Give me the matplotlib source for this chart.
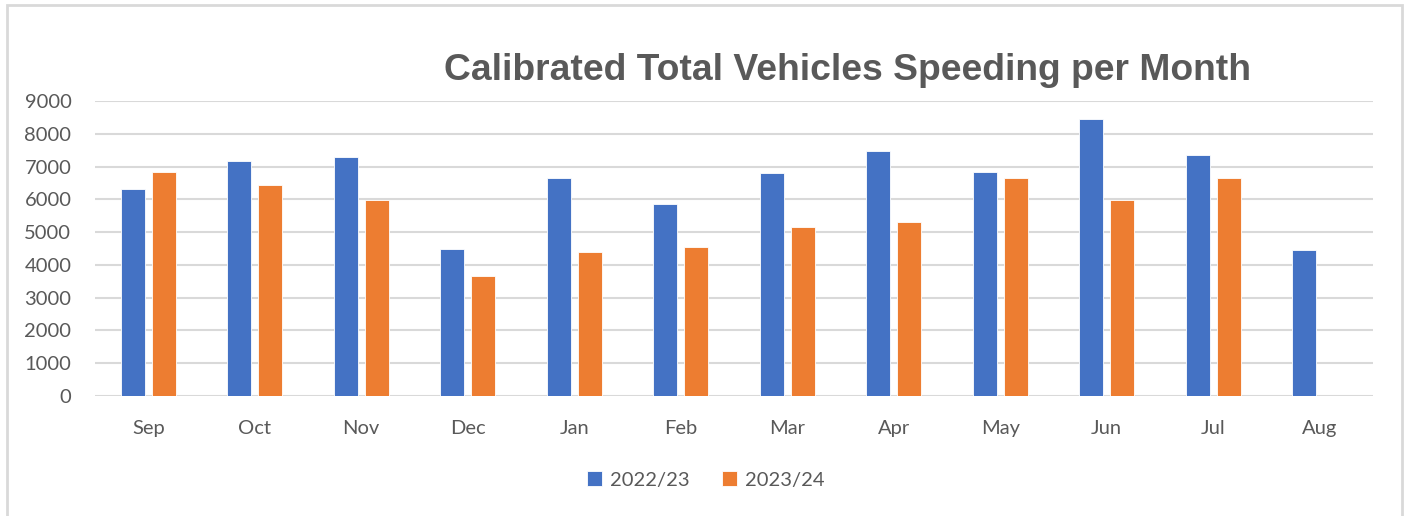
import matplotlib
matplotlib.use("Agg")
import matplotlib.pyplot as plt
import numpy as np
from matplotlib.patches import Rectangle

# data
months = ["Sep", "Oct", "Nov", "Dec", "Jan", "Feb", "Mar", "Apr", "May", "Jun", "Jul", "Aug"]
y2022 = [6310, 7160, 7300, 4500, 6660, 5870, 6810, 7460, 6840, 8450, 7360, 4460]
y2023 = [6830, 6430, 5980, 3650, 4390, 4540, 5170, 5310, 6640, 5970, 6650, np.nan]
series_names = ["2022/23", "2023/24"]
yticks = list(range(0, 10000, 1000))

blue = "#4472C4"
orange = "#ED7D31"
grey_txt = "#595959"
grid_col = "#D9D9D9"

fig = plt.figure(figsize=(14.07, 5.16), dpi=100)
ax = fig.add_axes([95 / 1407, 1 - 396 / 516, 1278 / 1407, 295 / 516])

x = np.arange(len(months))
w = 0.225
off = 0.144
ax.bar(x - off, y2022, w, color=blue, edgecolor="white", linewidth=0.6,
       label=series_names[0], zorder=3)
ax.bar(x + off, y2023, w, color=orange, edgecolor="white", linewidth=0.6,
       label=series_names[1], zorder=3)

ax.set_xlim(-0.5, len(months) - 0.5)
ax.set_ylim(0, 9000)
ax.set_yticks(yticks)
ax.set_xticks(x)
ax.set_xticklabels(months)
ax.yaxis.grid(True, color=grid_col, linewidth=1.5, zorder=0)
ax.set_axisbelow(True)
for s in ax.spines.values():
    s.set_visible(False)
ax.tick_params(axis="both", length=0, labelsize=14.5, labelcolor=grey_txt)
ax.tick_params(axis="x", pad=17)
ax.tick_params(axis="y", pad=17)
for lab in ax.get_xticklabels() + ax.get_yticklabels():
    lab.set_family("Lato")

fig.text(848 / 1407, 1 - 71 / 516, "Calibrated Total Vehicles Speeding per Month",
         ha="center", va="center", fontsize=26.8, fontweight="bold",
         color=grey_txt, family="Liberation Sans")

leg = fig.legend(loc="center", bbox_to_anchor=(706 / 1407, 1 - 480 / 516), ncol=2,
                 frameon=False, handlelength=0.75, handleheight=0.75,
                 handletextpad=0.4, columnspacing=1.6,
                 prop={"family": "Lato", "size": 14.5})
for t in leg.get_texts():
    t.set_color(grey_txt)

# light outer border like the source
fig.patches.append(Rectangle((7 / 1407, -0.01), 1395 / 1407, 1 - 5 / 516 + 0.01,
                             transform=fig.transFigure, fill=False,
                             edgecolor=grid_col, linewidth=2))

fig.savefig("out.png", dpi=100)
